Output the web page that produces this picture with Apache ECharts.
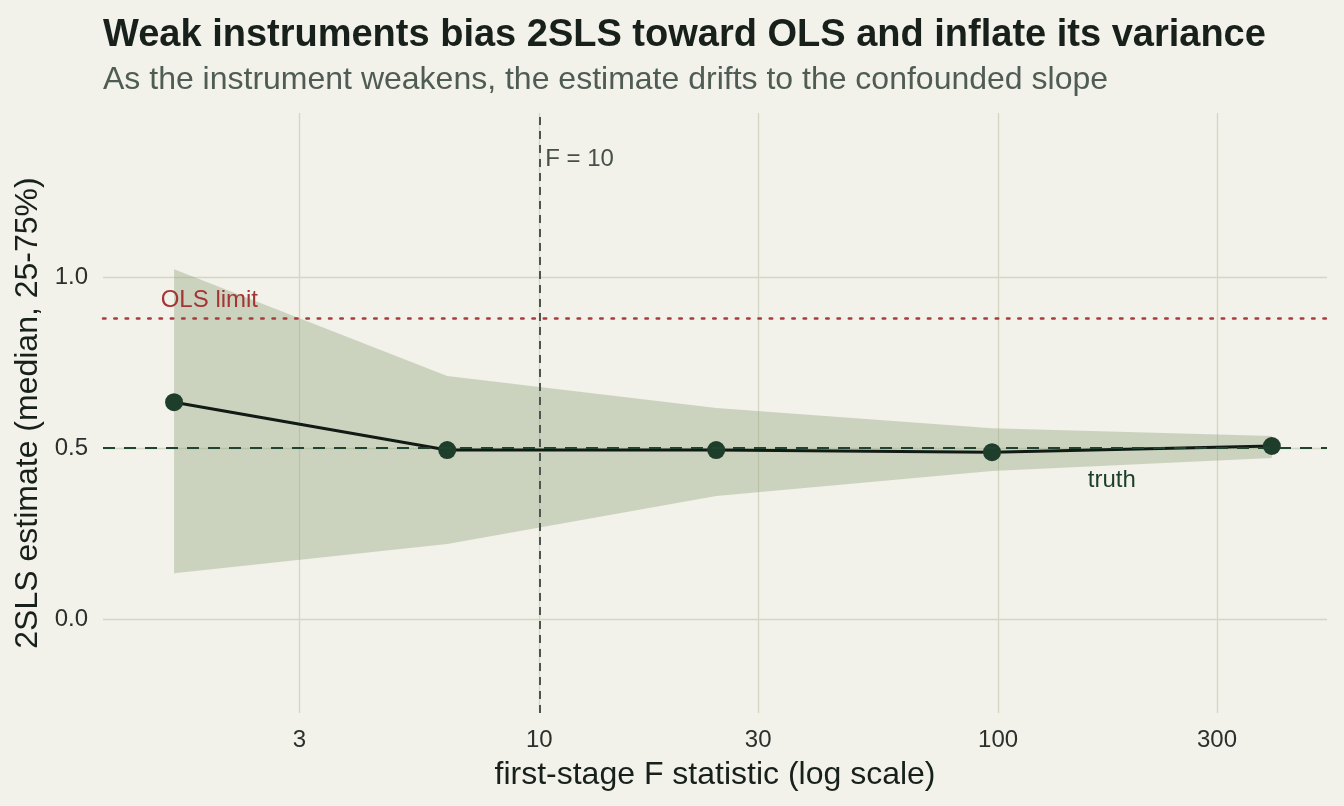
<!DOCTYPE html>
<html>
<head>
<meta charset="utf-8">
<script src="https://cdn.jsdelivr.net/npm/echarts@6/dist/echarts.min.js"></script>
<style>
  html, body { margin: 0; padding: 0; background: #f2f1ea; }
  #main { width: 1344px; height: 806px; }
</style>
</head>
<body>
<div id="main"></div>
<script>
// first-stage F (x) and 2SLS estimates (median + 25/75 quantiles)
const fStat = [1.6, 6.3, 24.3, 97, 395];
const median = [0.634, 0.494, 0.494, 0.488, 0.506];
const q25 = [0.134, 0.219, 0.36, 0.433, 0.471];
const q75 = [1.023, 0.711, 0.617, 0.558, 0.535];

const truth = 0.5;
const olsLimit = 0.883;
const fCut = 10;

const xTicks = [3, 10, 30, 100, 300];
const yTicks = [0, 0.5, 1];

// text annotations: [x, y, text]
const notes = [
  [1.91, 0.933, "OLS limit"],
  [10.3, 1.345, "F = 10"],
  [177, 0.405, "truth"]
];
const noteColors = ["#a33535", "#465049", "#1c3f2b"];
const noteAlign = ["center", "left", "center"];

const font = "'Liberation Sans', Arial, Helvetica, sans-serif";

let chart = echarts.init(document.getElementById("main"));

// ribbon drawn as one polygon through the axes
let renderBand = (params, api) => {
  if (params.dataIndex !== 0) return null;
  let upper = fStat.map((f, i) => api.coord([f, q75[i]]));
  let lower = fStat.map((f, i) => api.coord([f, q25[i]])).reverse();
  return {
    type: "polygon",
    shape: { points: upper.concat(lower) },
    style: { fill: "rgba(131,155,111,0.35)" },
    silent: true
  };
};

let option = {
  backgroundColor: "#f2f1ea",
  textStyle: { fontFamily: font },
  title: {
    text: "Weak instruments bias 2SLS toward OLS and inflate its variance",
    subtext: "As the instrument weakens, the estimate drifts to the confounded slope",
    left: 98,
    top: 12,
    itemGap: 9,
    textStyle: { fontSize: 38, fontWeight: "bold", color: "#17201a", fontFamily: font },
    subtextStyle: { fontSize: 32, color: "#4f5c54", fontFamily: font }
  },
  grid: { left: 103, right: 17, top: 113, bottom: 93 },
  xAxis: {
    type: "log",
    logBase: 10,
    min: 1.12,
    max: 521,
    name: "first-stage F statistic (log scale)",
    nameLocation: "middle",
    nameGap: 46,
    nameTextStyle: { fontSize: 32, color: "#17201a" },
    axisLine: { show: false },
    axisTick: { show: false, customValues: xTicks },
    axisLabel: {
      customValues: xTicks,
      fontSize: 24,
      color: "#2b302c",
      margin: 15,
      formatter: v => String(Math.round(v))
    },
    splitLine: { show: true, lineStyle: { color: "#d6d6c4", width: 1.3 } },
    minorSplitLine: { show: false }
  },
  yAxis: {
    type: "value",
    min: -0.275,
    max: 1.48,
    name: "2SLS estimate (median, 25-75%)",
    nameLocation: "middle",
    nameGap: 48,
    nameTextStyle: { fontSize: 32, color: "#17201a" },
    axisLine: { show: false },
    axisTick: { show: false, customValues: yTicks },
    axisLabel: {
      customValues: yTicks,
      fontSize: 24,
      color: "#2b302c",
      margin: 15,
      formatter: v => v.toFixed(1)
    },
    splitLine: { show: true, lineStyle: { color: "#d6d6c4", width: 1.3 } }
  },
  series: [
    {
      name: "band",
      type: "custom",
      renderItem: renderBand,
      data: fStat.map((f, i) => [f, q25[i], q75[i]]),
      encode: { x: 0, y: [1, 2] },
      silent: true,
      z: 1
    },
    {
      name: "refs",
      type: "line",
      data: [],
      z: 2,
      markLine: {
        silent: true,
        symbol: "none",
        label: { show: false },
        data: [
          { yAxis: truth, lineStyle: { color: "#1f4430", width: 2.2, type: [12, 9] } },
          { yAxis: olsLimit, lineStyle: { color: "#a83c3c", width: 2.5, type: [2.5, 8.8], cap: "round" } },
          { xAxis: fCut, lineStyle: { color: "#4b5650", width: 2, type: [8, 6] } }
        ]
      }
    },
    {
      name: "median",
      type: "line",
      data: fStat.map((f, i) => [f, median[i]]),
      symbol: "circle",
      symbolSize: 18,
      itemStyle: { color: "#1f3d2b" },
      lineStyle: { color: "#121a15", width: 3 },
      z: 3
    },
    {
      name: "notes",
      type: "scatter",
      symbolSize: 0,
      silent: true,
      z: 4,
      itemStyle: { opacity: 1 },
      data: notes.map((n, i) => ({
        value: [n[0], n[1]],
        label: {
          show: true,
          position: "inside",
          align: noteAlign[i],
          formatter: n[2],
          fontSize: 24,
          color: noteColors[i],
          opacity: 1,
          textBorderWidth: 0
        }
      }))
    }
  ]
};

chart.setOption(option);
</script>
</body>
</html>
